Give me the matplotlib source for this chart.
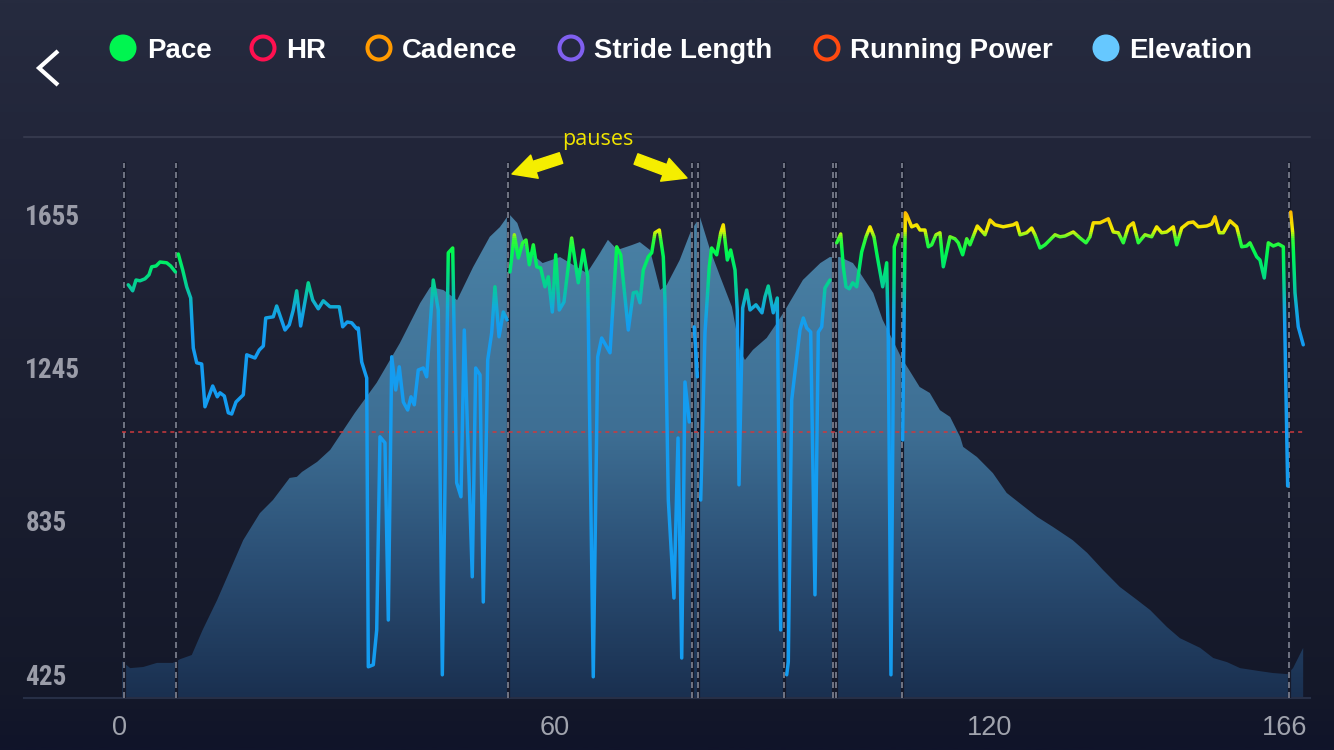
import numpy as np
import matplotlib
matplotlib.use("Agg")
import matplotlib.pyplot as plt
from matplotlib import font_manager
from matplotlib.colors import LinearSegmentedColormap
from matplotlib.patches import Rectangle, Circle, Polygon, FancyArrowPatch
from matplotlib.lines import Line2D
import matplotlib.transforms as mtransforms

# ---------------- data ----------------
legend_labels = ["Pace", "HR", "Cadence", "Stride Length", "Running Power", "Elevation"]
legend_colors = ["#00f550", "#ff1050", "#ff9a00", "#8060f0", "#ff4a10", "#66c8ff"]
legend_filled = [True, False, False, False, False, True]

# elevation profile (minutes, metres)
elev_t = [0.3, 1.4, 3.2, 5.1, 7.3, 8.3, 9.9, 11.4, 13.4, 15.2, 17.0, 19.3, 21.1, 23.4, 24.4,
          25.1, 27.2, 29.0, 32.4, 35.4, 38.6, 41.4, 42.8, 44.6, 46.5, 48.7, 51.0, 52.4, 53.4,
          53.8, 54.8, 56.1, 58.3, 60.7, 64.4, 66.2, 67.3, 68.6, 70.6, 71.7, 73.1, 74.5, 75.4,
          77.2, 78.8, 80.0, 81.4, 82.8, 84.4, 85.5, 86.2, 87.3, 89.2, 90.6, 91.3, 92.0, 94.2,
          96.6, 97.9, 99.3, 101.1, 102.1, 103.9, 105.2, 106.6, 107.6, 108.0, 110.3, 111.7,
          113.1, 114.5, 115.9, 116.3, 118.2, 120.4, 122.3, 126.5, 128.7, 131.4, 133.4, 135.6,
          137.9, 140.3, 142.1, 144.4, 146.2, 149.0, 150.8, 152.7, 154.5, 157.2, 159.0, 161.0,
          161.8, 163.2]
elev_m = [460, 442, 445, 456, 456, 466, 477, 544, 624, 704, 784, 856, 891, 950, 953,
          966, 993, 1025, 1124, 1204, 1310, 1417, 1460, 1452, 1425, 1513, 1594, 1620, 1647,
          1652, 1631, 1559, 1524, 1540, 1497, 1551, 1586, 1559, 1572, 1580, 1559, 1452, 1465,
          1532, 1612, 1647, 1559, 1487, 1407, 1292, 1265, 1292, 1324, 1364, 1385, 1407, 1479,
          1524, 1540, 1540, 1524, 1497, 1444, 1372, 1318, 1278, 1265, 1193, 1177,
          1131, 1113, 1059, 1033, 1006, 963, 910, 846, 819, 784, 750, 704,
          659, 624, 597, 552, 522, 496, 469, 458, 442, 434, 429, 426,
          442, 496]

# pace (speed, km/h); None separates the segments between pauses
pace_t = [1.14, 1.75, 2.21, 2.76, 3.45, 4.0, 4.37, 4.97, 5.52, 6.44, 6.99, 7.65, None,
          8.04, 8.65, 9.2, 9.75, 10.11, 10.58, 11.27, 11.72, 12.79, 13.42, 13.79, 14.39, 14.94,
          15.41, 16.0, 17.01, 17.48, 18.62, 19.21, 19.77, 20.1, 21.14, 21.61, 22.76, 23.35, 23.9,
          24.37, 24.92, 25.97, 26.58, 27.35, 28.04, 28.97, 30.25, 30.72, 31.35, 31.96, 32.65,
          32.87, 33.34, 34.03, 34.25, 34.94, 35.41, 35.86, 36.55, 37.01, 37.48, 38.03, 38.52,
          39.08, 39.68, 40.14, 40.59, 41.14, 41.83, 42.3, 43.21, 43.9, 44.46, 45.28, 45.89,
          46.44, 47.03, 47.49, 48.59, 49.06, 49.66, 50.11, 50.72, 51.27, 51.72, 52.28, 52.87,
          53.4, None,
          53.79, 54.39, 54.94, 55.54, 56.0, 56.46, 57.01, 57.48, 58.03, 58.62, 59.08, 59.63,
          60.1, 60.59, 61.24, 62.3, 63.21, 63.9, 64.51, 65.28, 65.89, 66.44, 67.59, 68.51,
          69.06, 70.11, 70.8, 71.27, 71.72, 72.18, 72.87, 73.34, 73.79, 74.39, 74.94, 75.17,
          75.63, 76.41, 76.97, 77.48, 77.93, 78.52, None,
          79.21, 79.63, None,
          80.1, 80.69, 81.28, 81.61, 82.3, 82.86, 83.21, 83.77, 84.23, 84.83, 85.14, 85.38,
          85.89, 86.44, 86.9, 87.72, 88.55, 88.97, 89.42, 90.11, 90.66, 91.13, None,
          91.96, 92.18, 92.65, 93.79, 94.25, 94.72, 95.27, 95.86, 96.32, 96.79, 97.24, 97.93, None,
          98.86, 99.41, 99.77, 100.14, 100.59, 101.06, 101.61, 102.3, 102.9, 103.45, 104.0,
          104.46, 105.2, 105.75, 105.97, 106.34, 106.8, 107.35, None,
          107.96, 108.32, 108.51, 109.2, 109.89, 110.34, 111.03, 111.49, 111.96, 112.55, 113.1,
          113.56, 114.48, 115.17, 115.63, 116.23, 116.79, 117.24, 118.25, 119.31, 120.0, 120.69,
          121.83, 123.21, 123.68, 124.14, 125.06, 125.75, 126.21, 126.9, 127.59, 128.97, 129.66,
          130.34, 131.49, 132.41, 133.24, 133.79, 134.25, 135.17, 136.32, 137.01, 137.7, 138.39,
          139.08, 139.77, 140.46, 141.38, 142.3, 142.99, 143.68, 144.37, 145.28, 145.75, 146.44,
          147.35, 148.04, 148.73, 149.89, 150.58, 151.03, 151.63, 152.18, 153.1, 154.03, 154.72,
          155.41, 155.86, 156.79, 157.24, 157.83, 158.39, 159.08, 159.77, 160.46, 161.06, None,
          161.48, 161.75, 162.07, 162.52, 163.21]
pace_v = [10.33, 10.18, 10.45, 10.43, 10.48, 10.58, 10.78, 10.8, 10.9, 10.88, 10.8, 10.65, None,
          11.1, 10.7, 10.28, 10.0, 8.75, 8.38, 8.35, 7.28, 7.8, 7.53, 7.63, 7.55, 7.13,
          7.1, 7.4, 7.58, 8.58, 8.5, 8.7, 8.8, 9.5, 9.53, 9.8, 9.2, 9.33, 9.7,
          10.18, 9.3, 10.38, 9.95, 9.73, 9.93, 9.78, 9.78, 9.28, 9.4, 9.38, 9.23,
          9.25, 8.4, 8.0, 0.78, 0.83, 1.7, 6.53, 6.38, 1.95, 8.53, 7.7, 8.28,
          7.4, 7.2, 7.53, 7.33, 8.2, 8.25, 8.03, 10.45, 9.7, 0.58, 11.13, 11.25,
          5.38, 5.03, 9.2, 3.03, 8.25, 8.08, 2.4, 8.45, 9.13, 10.28, 9.03, 9.65,
          9.45, None,
          10.65, 11.58, 11.0, 11.38, 11.45, 10.83, 11.33, 10.78, 10.75, 10.28, 10.53, 9.65,
          11.08, 9.7, 9.9, 11.5, 10.38, 11.2, 10.53, 0.53, 8.53, 9.0, 8.63, 11.28,
          11.08, 9.2, 10.13, 10.15, 9.88, 10.7, 11.03, 11.13, 11.63, 11.7, 11.03, 9.95,
          4.95, 2.5, 6.5, 1.0, 7.9, 6.9, None,
          9.28, 8.03, None,
          4.95, 9.13, 10.78, 11.25, 11.08, 11.63, 11.83, 10.95, 11.2, 10.7, 9.7, 5.33,
          9.75, 10.2, 9.7, 9.83, 9.63, 10.03, 10.3, 9.63, 10.0, 1.7, None,
          0.58, 0.9, 7.45, 9.2, 9.5, 9.25, 9.15, 2.58, 9.15, 9.28, 10.25, 10.45, None,
          11.38, 11.6, 10.78, 10.28, 10.23, 10.38, 10.28, 11.15, 11.53, 11.78, 11.53,
          11.03, 10.28, 10.88, 8.95, 0.58, 11.28, 11.58, None,
          6.45, 12.13, 12.08, 11.78, 11.83, 11.7, 11.7, 11.28, 11.33, 11.58, 11.63,
          10.78, 11.53, 11.48, 11.38, 11.08, 11.48, 11.33, 11.8, 11.58, 11.95, 11.83,
          11.78, 11.83, 11.88, 11.58, 11.63, 11.75, 11.58, 11.25, 11.33, 11.58, 11.53,
          11.55, 11.65, 11.5, 11.38, 11.53, 11.88, 11.88, 11.98, 11.65, 11.63, 11.38,
          11.78, 11.88, 11.38, 11.58, 11.53, 11.78, 11.63, 11.65, 11.78, 11.33, 11.75,
          11.88, 11.9, 11.78, 11.8, 11.85, 12.03, 11.63, 11.63, 11.93, 11.78, 11.28,
          11.3, 11.38, 11.03, 10.95, 10.5, 11.38, 11.3, 11.35, 11.28, 5.3, None,
          12.15, 11.63, 10.13, 9.28, 8.83]

pause_t = [0.55, 7.72, 53.5, 78.95, 79.75, 91.63, 98.3, 98.75, 107.82, 161.27]
avg_pace = 6.65
ytick_vals = [425, 835, 1245, 1655]
xtick_pos = [0, 60, 120, 160.7]
xtick_labels = ["0", "60", "120", "166"]

# ---------------- fonts ----------------
W, H, DPI = 1334, 750, 100
plt.rcParams["lines.scale_dashes"] = False
avail = {f.name for f in font_manager.fontManager.ttflist}
narrow, narrow_stretch = "DejaVu Sans", "condensed"
for cand in ["Liberation Sans Narrow", "Roboto Condensed", "Open Sans Condensed",
             "Noto Sans Condensed"]:
    if cand in avail:
        narrow, narrow_stretch = cand, "normal"
        break
else:
    for f in font_manager.fontManager.ttflist:
        if f.name in ("Noto Sans", "Roboto", "Open Sans") and f.stretch in (
                "condensed", "semi-condensed", "extra-condensed", 75, 87, 62):
            narrow, narrow_stretch = f.name, f.stretch
            break
sans = "Liberation Sans" if "Liberation Sans" in avail else "DejaVu Sans"
opens = "Open Sans" if "Open Sans" in avail else sans

fig = plt.figure(figsize=(W / DPI, H / DPI), dpi=DPI)
px = mtransforms.Affine2D().scale(1.0 / W, -1.0 / H).translate(0, 1) + fig.transFigure

# background gradient
bg = fig.add_axes([0, 0, 1, 1], zorder=-10)
bg_cmap = LinearSegmentedColormap.from_list(
    "bg", [(0, "#262b3f"), (137 / H, "#22263a"), (420 / H, "#1b1f31"),
           (698 / H, "#141829"), (1, "#10142a")])
bg.imshow(np.linspace(0, 1, 400).reshape(-1, 1), cmap=bg_cmap, aspect="auto",
          extent=[0, 1, 0, 1], origin="upper")
bg.set_axis_off()

# main axes (pixel layout: x 24..1310, y 137..698)
ax = fig.add_axes([24 / W, (H - 698) / H, (1310 - 24) / W, (698 - 137) / H])
ax.set_facecolor("none")
xlim = (-13.24, 164.14)
ylim = (362.2, 1860.7)

# elevation area with vertical gradient
ax.fill_between(elev_t, elev_m, ylim[0], color="none", lw=0)
verts = list(zip(elev_t, elev_m)) + [(elev_t[-1], ylim[0]), (elev_t[0], ylim[0])]
poly = Polygon(verts, closed=True, facecolor="none", edgecolor="none")
ax.add_patch(poly)
area_cmap = LinearSegmentedColormap.from_list(
    "area", [(0, "#1a3050"), (0.246, "#2b4f75"), (0.478, "#3e6f94"),
             (0.861, "#4a82a6"), (1, "#4d86aa")])
im = ax.imshow(np.linspace(0, 1, 400).reshape(-1, 1), cmap=area_cmap, aspect="auto",
               extent=[xlim[0], xlim[1], ylim[0], ylim[1]], origin="lower", zorder=1)
im.set_clip_path(poly)

# pause lines
ytop = (698 - 163) / (698 - 137)
for p in pause_t:
    ax.axvline(p, ymin=0, ymax=ytop, color="#161a2b", lw=2.3, zorder=3)
    ax.axvline(p, ymin=0, ymax=ytop, color="#8a8e9c", lw=1.1, ls=(0, (4.3, 2.9)), zorder=4)

ax.set_xlim(*xlim)
ax.set_ylim(*ylim)
for s in ["top", "right", "left"]:
    ax.spines[s].set_visible(False)
ax.spines["bottom"].set_color("#272f46")
ax.spines["bottom"].set_linewidth(1.5)

ax.set_yticks(ytick_vals)
ax.set_yticklabels([str(v) for v in ytick_vals], fontfamily=narrow, fontstretch=narrow_stretch,
                   fontsize=19.5, color="#9a9ca8", fontweight="bold")
ax.tick_params(axis="y", length=0, pad=-1)
for lbl in ax.get_yticklabels():
    lbl.set_horizontalalignment("left")
ax.set_xticks(xtick_pos)
ax.set_xticklabels(xtick_labels, fontfamily=sans, fontsize=19.5, color="#a0a3ad")
ax.tick_params(axis="x", length=0, pad=12)

# pace on a twin axis
ax2 = ax.twinx()
ax2.set_ylim(0, (698 - 137) / 40.0)
ax2.set_xlim(*xlim)
ax2.set_axis_off()

ax2.hlines(avg_pace, 0.3, 163.2, color="#cc3a3e", lw=1.1, linestyles=(0, (2.9, 2.9)), zorder=2)

pt = np.array([np.nan if v is None else v for v in pace_t], dtype=float)
pv = np.array([np.nan if v is None else v for v in pace_v], dtype=float)

pace_cmap = LinearSegmentedColormap.from_list(
    "pace", [(0, "#149cf0"), (9.3 / 13, "#149cf0"), (9.8 / 13, "#12abd8"),
             (10.3 / 13, "#06cc98"), (10.8 / 13, "#00e870"), (11.2 / 13, "#00f850"),
             (11.45 / 13, "#30fa38"), (11.7 / 13, "#f0f000"), (12.2 / 13, "#ffb400"),
             (1, "#ffa000")])
edges = [-1.0, 9.2] + list(np.arange(9.25, 12.6, 0.05)) + [20.0]
for lo, hi in zip(edges[:-1], edges[1:]):
    mid = min(max((lo + hi) / 2, 0), 13)
    ln, = ax2.plot(pt, pv, color=pace_cmap(mid / 13), lw=2.5, solid_capstyle="round",
                   solid_joinstyle="round", zorder=5)
    rect = Rectangle((xlim[0], lo - 0.004), xlim[1] - xlim[0], hi - lo + 0.008,
                     transform=ax2.transData)
    ln.set_clip_path(rect)

# ---------------- header / decorations ----------------
fig.add_artist(Line2D([24, 1310], [137, 137], transform=px, color="#3a3e52", lw=1.1))
fig.add_artist(Line2D([58, 39, 58], [51, 68, 85], transform=px, color="white", lw=3,
                      solid_joinstyle="miter", solid_capstyle="butt"))

circle_x = [123, 263, 379, 571, 827, 1106]
text_x = [147, 286, 402, 594, 850, 1129]
for cx, tx, lab, col, filled in zip(circle_x, text_x, legend_labels, legend_colors, legend_filled):
    if filled:
        c = Circle((cx, 48), 13.5, transform=px, facecolor=col, edgecolor="none")
    else:
        c = Circle((cx, 48), 11.5, transform=px, facecolor="none", edgecolor=col, lw=2.9)
    fig.add_artist(c)
    fig.text(tx, 58.5, lab, transform=px, fontfamily=sans, fontweight="bold", fontsize=19.9,
             color="white", ha="left", va="baseline")

fig.text(598, 145, "pauses", transform=px, fontfamily=opens, fontsize=15.5, color="#f0e400",
         ha="center", va="baseline")
for a, b in [((561, 158), (512, 174)), ((636, 159), (687, 178))]:
    fig.add_artist(FancyArrowPatch(a, b, transform=px, color="#f5ee00", shrinkA=0, shrinkB=0,
                                   mutation_scale=1,
                                   arrowstyle="simple,head_length=17,head_width=17.5,tail_width=8"))

fig.savefig("out.png", dpi=DPI)
